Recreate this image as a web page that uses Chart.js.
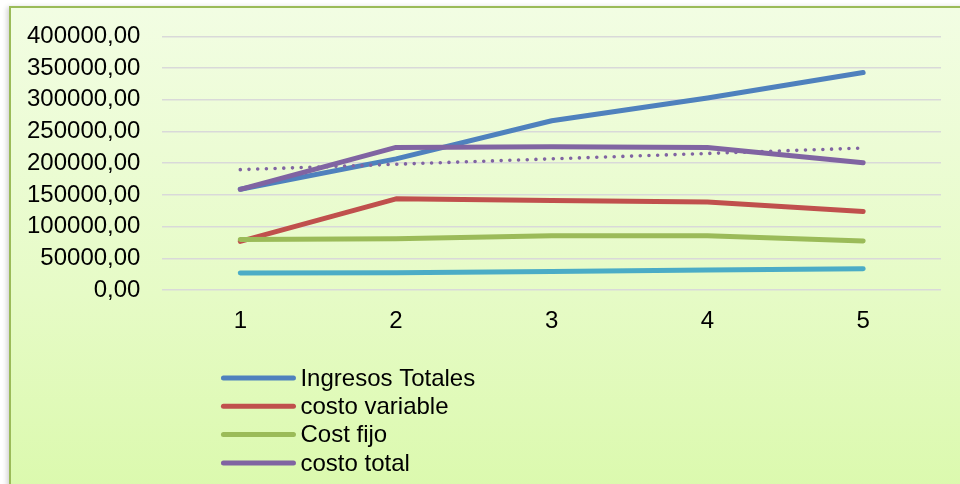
<!DOCTYPE html>
<html>
<head>
<meta charset="utf-8">
<script src="https://cdn.jsdelivr.net/npm/chart.js@4"></script>
<style>
  body { margin: 0; background: #fff; }
  #wrap { position: relative; width: 960px; height: 484px; overflow: hidden; }
  #frame {
    position: absolute; left: 9px; top: 6px; width: 980px; height: 520px;
    border-left: 2px solid #9bbb59; border-top: 2px solid #9bbb59;
    background: linear-gradient(to bottom, #f2fde3 0%, #e6fbc6 55%, #d9f9a9 100%);
    box-shadow: -2px 1px 5px rgba(0,0,0,0.18);
  }
  #chartCostos { position: absolute; left: 0; top: 0; }
</style>
</head>
<body>
<div id="wrap">
  <div id="frame"></div>
  <canvas id="chartCostos" width="960" height="484"></canvas>
</div>
<script>
// Datos
const periodos = ['1', '2', '3', '4', '5'];
const ingresosTotales = [159000, 207000, 267000, 303000, 343000];
const costoVariable = [77000, 144000, 141500, 139000, 124000];
const costoFijo = [80000, 81000, 86000, 86000, 77500];
const costoTotal = [159000, 225000, 226000, 225000, 201000];
const serie5 = [27000, 27500, 29500, 32000, 34000];
const tendenciaCostoTotal = [190000, 198500, 207000, 215500, 224000];

const FONT = { family: "'Liberation Sans', Arial, sans-serif", size: 24 };

// Leyenda vertical debajo del eje (solo las series visibles en el original)
const leyendaVertical = {
  id: 'leyendaVertical',
  afterDraw(chart) {
    const ctx = chart.ctx;
    const x0 = chart.chartArea.left + 61;
    let y = 378;
    ctx.save();
    ctx.font = FONT.size + 'px ' + FONT.family;
    ctx.textBaseline = 'middle';
    ctx.fillStyle = '#000';
    chart.data.datasets.forEach(ds => {
      if (ds.enLeyenda === false) return;
      ctx.strokeStyle = ds.borderColor;
      ctx.lineWidth = ds.borderWidth;
      ctx.lineCap = 'round';
      ctx.beginPath();
      ctx.moveTo(x0, y);
      ctx.lineTo(x0 + 70, y);
      ctx.stroke();
      ctx.fillText(ds.label, x0 + 77, y + 1);
      y += 28.3;
    });
    ctx.restore();
  }
};

const ctx = document.getElementById('chartCostos').getContext('2d');
new Chart(ctx, {
  type: 'line',
  data: {
    labels: periodos,
    datasets: [
      { label: 'Ingresos Totales', data: ingresosTotales, borderColor: '#4f81bd', borderWidth: 5, order: 6 },
      { label: 'costo variable', data: costoVariable, borderColor: '#c0504d', borderWidth: 5, order: 5 },
      { label: 'Cost fijo', data: costoFijo, borderColor: '#9bbb59', borderWidth: 5, order: 4 },
      { label: 'costo total', data: costoTotal, borderColor: '#8064a2', borderWidth: 5, order: 3 },
      { label: 'Serie5', data: serie5, borderColor: '#4bacc6', borderWidth: 5, order: 2, enLeyenda: false },
      {
        label: 'Lineal (costo total)', data: tendenciaCostoTotal, borderColor: '#8064a2',
        borderWidth: 3.6, borderDash: [0, 8.7], order: 1, enLeyenda: false
      }
    ]
  },
  options: {
    responsive: false,
    animation: false,
    elements: {
      line: { tension: 0, borderCapStyle: 'round', borderJoinStyle: 'round', fill: false },
      point: { radius: 0, hoverRadius: 0 }
    },
    layout: { padding: { left: 5, right: 19, top: 36, bottom: 131 } },
    plugins: {
      legend: { display: false },
      tooltip: { enabled: false }
    },
    scales: {
      x: {
        offset: true,
        grid: { display: false, drawTicks: false, offset: true },
        border: { display: false },
        ticks: { color: '#000', font: FONT, padding: 17, maxRotation: 0, autoSkip: false }
      },
      y: {
        min: 0,
        max: 400000,
        grid: { color: '#d9d9d9', lineWidth: 1.6, drawTicks: false },
        border: { display: false },
        ticks: {
          stepSize: 50000,
          autoSkip: false,
          color: '#000',
          font: FONT,
          padding: 22,
          callback: v => v.toFixed(2).replace('.', ',')
        }
      }
    }
  },
  plugins: [leyendaVertical]
});
</script>
</body>
</html>
